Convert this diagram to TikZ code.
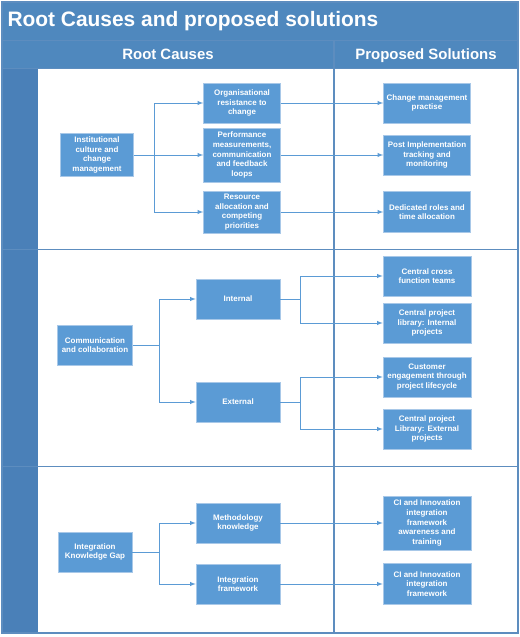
\documentclass[tikz,border=0pt]{standalone}
\usepackage{fontspec}
\setmainfont{Liberation Sans}
\usetikzlibrary{arrows,positioning,calc}
\definecolor{bandblue}{HTML}{4F88BE}
\definecolor{laneblue}{HTML}{4A80B8}
\definecolor{frameline}{HTML}{5D8DBF}
\definecolor{boxfill}{HTML}{5B9BD5}
\definecolor{boxline}{HTML}{A8C8E8}
\definecolor{connline}{HTML}{5B9BD5}

\begin{document}
\begin{tikzpicture}[x=1bp,y=-1bp,
  box/.style={draw=boxline,line width=0.6bp,fill=boxfill,text=white,align=center,inner sep=1bp,
    font=\bfseries\fontsize{8}{9.6}\selectfont,minimum height=40bp},
  cause/.style={box,minimum width=77bp},
  branch/.style={box,minimum width=84bp},
  fix/.style={box,minimum width=88bp},
  head/.style={text=white,anchor=base,font=\bfseries\fontsize{15}{17}\selectfont},
  conn/.style={draw=connline,line width=0.9bp,-latex}]
\useasboundingbox (0,0) rectangle (520,637);
\fill[white] (0,0) rectangle (520,637);

% title and header bands
\fill[bandblue] (2,2) rectangle (518,69);
\fill[laneblue] (2,69) rectangle (38,633);
\draw[frameline,line width=1bp] (2,41) -- (518,41);
\foreach \y in {69,249,466}
\draw[frameline,line width=1bp] (2,\y) -- (518,\y);
\draw[frameline,line width=1.2bp] (334,41) -- (334,633);
\draw[frameline,line width=1.2bp] (2,2) rectangle (518,633);

\node[anchor=west,text=white,font=\bfseries\fontsize{21}{24}\selectfont] (title) at (4,21) {Root Causes and proposed solutions};
\node[head] (hcause) at (168,60) {Root Causes};
\node[head] (hfix) at (426,60) {Proposed Solutions};

% lane 1
\node[box,minimum width=73bp,minimum height=43bp] (inst) at (97,155) {Institutional\\culture and\\change\\management};
\node[cause] (org) at (242,103) {Organisational\\resistance to\\change};
\node[cause,minimum height=54bp] (perf) at (242,155) {Performance\\measurements,\\communication\\and feedback\\loops};
\node[cause,minimum height=42bp] (res) at (242,212) {Resource\\allocation and\\competing\\priorities};
\node[fix,minimum width=87bp] (chg) at (427,103) {Change management\\practise};
\node[fix,minimum width=87bp] (post) at (427,155) {Post Implementation\\tracking and\\monitoring};
\node[fix,minimum width=87bp,minimum height=41bp] (roles) at (427,212) {Dedicated roles and\\time allocation};

\coordinate (b1) at (154,155);
\draw[conn] (inst.east) -- (perf.west);
\draw[conn] (b1) |- (org.west);
\draw[conn] (b1) |- (res.west);
\draw[conn] (org.east) -- (chg.west);
\draw[conn] (perf.east) -- (post.west);
\draw[conn] (res.east) -- (roles.west);

% lane 2
\node[box,minimum width=75bp] (comm) at (95,345) {Communication\\and collaboration};
\node[branch] (int) at (238,299) {Internal};
\node[branch] (ext) at (238,402) {External};
\node[fix] (cross) at (427,276) {Central cross\\function teams};
\node[fix] (libint) at (427,323) {Central project\\library: Internal\\projects};
\node[fix] (cust) at (427,377) {Customer\\engagement through\\project lifecycle};
\node[fix] (libext) at (427,429) {Central project\\Library: External\\projects};

\coordinate (b2) at (159,345);
\coordinate (b3) at (300,299);
\coordinate (b4) at (300,402);
\draw[draw=connline,line width=0.9bp] (comm.east) -- (b2);
\draw[conn] (b2) |- (int.west);
\draw[conn] (b2) |- (ext.west);
\draw[draw=connline,line width=0.9bp] (int.east) -- (b3);
\draw[conn] (b3) |- (cross.west);
\draw[conn] (b3) |- (libint.west);
\draw[draw=connline,line width=0.9bp] (ext.east) -- (b4);
\draw[conn] (b4) |- (cust.west);
\draw[conn] (b4) |- (libext.west);

% lane 3
\node[box,minimum width=74bp] (gap) at (95,552) {Integration\\Knowledge Gap};
\node[branch] (meth) at (238,523) {Methodology\\knowledge};
\node[branch] (intf) at (238,584) {Integration\\framework};
\node[fix,minimum height=54bp] (ciaw) at (427,523) {CI and Innovation\\integration\\framework\\awareness and\\training};
\node[fix,minimum height=41bp] (cifw) at (427,584) {CI and Innovation\\integration\\framework};

\coordinate (b5) at (159,552);
\draw[draw=connline,line width=0.9bp] (gap.east) -- (b5);
\draw[conn] (b5) |- (meth.west);
\draw[conn] (b5) |- (intf.west);
\draw[conn] (meth.east) -- (ciaw.west);
\draw[conn] (intf.east) -- (cifw.west);
\end{tikzpicture}
\end{document}
